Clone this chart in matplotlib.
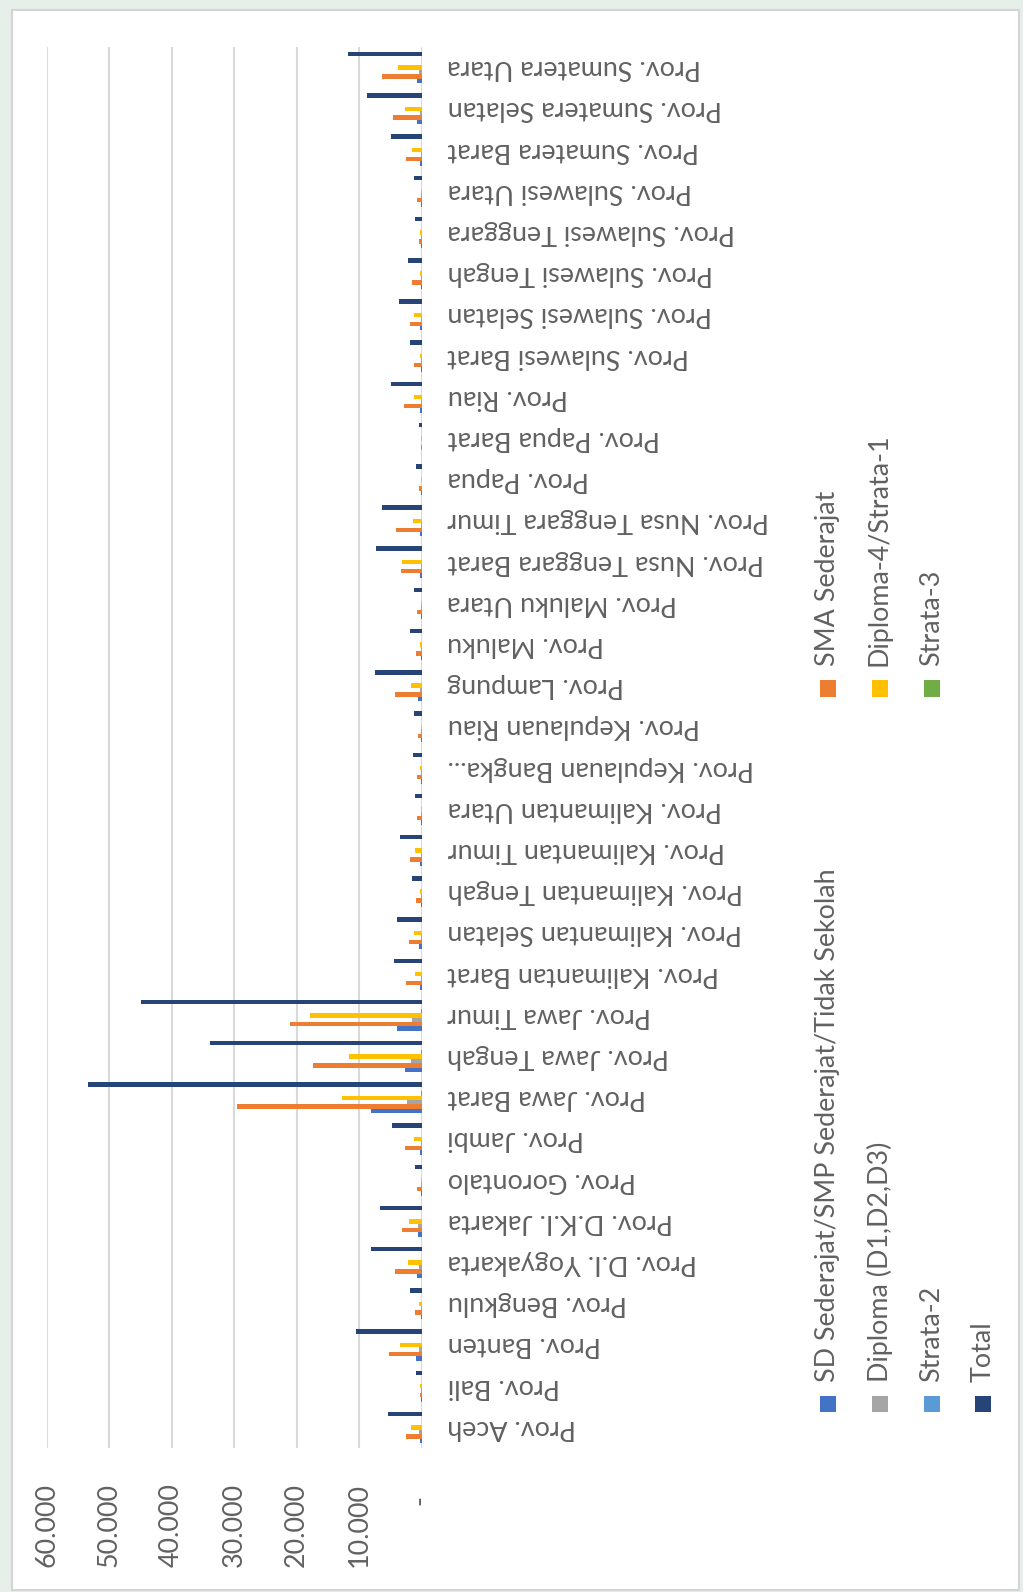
import numpy as np
import matplotlib
matplotlib.use("Agg")
import matplotlib.pyplot as plt
from matplotlib.patches import Rectangle

plt.rcParams["font.family"] = ["Lato", "DejaVu Sans"]

provinces = [
    "Prov. Aceh", "Prov. Bali", "Prov. Banten", "Prov. Bengkulu",
    "Prov. D.I. Yogyakarta", "Prov. D.K.I. Jakarta", "Prov. Gorontalo",
    "Prov. Jambi", "Prov. Jawa Barat", "Prov. Jawa Tengah", "Prov. Jawa Timur",
    "Prov. Kalimantan Barat", "Prov. Kalimantan Selatan",
    "Prov. Kalimantan Tengah", "Prov. Kalimantan Timur",
    "Prov. Kalimantan Utara", "Prov. Kepulauan Bangka...",
    "Prov. Kepulauan Riau", "Prov. Lampung", "Prov. Maluku",
    "Prov. Maluku Utara", "Prov. Nusa Tenggara Barat",
    "Prov. Nusa Tenggara Timur", "Prov. Papua", "Prov. Papua Barat",
    "Prov. Riau", "Prov. Sulawesi Barat", "Prov. Sulawesi Selatan",
    "Prov. Sulawesi Tengah", "Prov. Sulawesi Tenggara",
    "Prov. Sulawesi Utara", "Prov. Sumatera Barat",
    "Prov. Sumatera Selatan", "Prov. Sumatera Utara",
]

sd_smp = [267, 60, 906, 100, 693, 586, 50, 267, 8100, 2610, 3940, 267, 373,
          80, 267, 50, 80, 60, 586, 80, 60, 267, 267, 40, 20, 267, 80, 200,
          100, 60, 60, 267, 693, 693]
sma = [2500, 267, 5170, 1010, 4264, 3090, 693, 2720, 29600, 17430, 21000,
       2450, 1970, 853, 1810, 693, 800, 586, 4320, 960, 746, 3250, 4160, 480,
       100, 2770, 1280, 1866, 1546, 480, 746, 2450, 4640, 6290]
diploma = [373, 50, 373, 60, 373, 533, 40, 150, 2400, 1706, 1490, 150, 150,
           50, 150, 40, 60, 60, 267, 60, 40, 150, 150, 30, 20, 100, 50, 150,
           80, 50, 50, 150, 213, 373]
d4_s1 = [1760, 267, 3466, 373, 2240, 2026, 150, 1226, 12690, 11570, 17860,
         1120, 1226, 267, 1066, 150, 267, 150, 1706, 267, 150, 3090, 1333,
         160, 100, 1226, 267, 1226, 267, 267, 150, 1490, 2610, 3785]
strata2 = [0, 0, 20, 0, 20, 20, 0, 0, 150, 100, 120, 0, 0, 0, 0, 0, 0, 0,
           10, 0, 0, 0, 0, 0, 0, 10, 0, 10, 0, 0, 0, 0, 10, 20]
strata3 = [0] * 34
total = [5440, 853, 10500, 1810, 8100, 6660, 1120, 4740, 53340, 33900, 44900,
         4370, 3940, 1490, 3466, 1066, 1386, 1226, 7410, 1810, 1226, 7300,
         6400, 960, 426, 4850, 1866, 3680, 2240, 1010, 1170, 4850, 8690, 11730]

series_names = [
    "SD Sederajat/SMP Sederajat/Tidak Sekolah", "SMA Sederajat",
    "Diploma (D1,D2,D3)", "Diploma-4/Strata-1", "Strata-2", "Strata-3", "Total",
]
series_colors = ["#4472C4", "#ED7D31", "#A5A5A5", "#FFC000", "#5B9BD5",
                 "#70AD47", "#264478"]
series_values = [sd_smp, sma, diploma, d4_s1, strata2, strata3, total]

value_ticks = [0, 10000, 20000, 30000, 40000, 50000, 60000]
value_labels = ["-  ", "10.000", "20.000", "30.000", "40.000", "50.000",
                "60.000"]

W, H = 1023, 1592
text_gray = "#616161"
fsize = 19.4


def fx(px):
    return px / W


def fy(py):
    return 1 - py / H


fig = plt.figure(figsize=(W / 100, H / 100), dpi=100)
fig.patch.set_facecolor("#E7EFEB")
fig.add_artist(Rectangle((fx(12), fy(1590)), fx(1019) - fx(12),
                         fy(10) - fy(1590), transform=fig.transFigure,
                         facecolor="white", edgecolor="#D4D4D4", lw=1.5,
                         zorder=-1))

ax = fig.add_axes([fx(46.7), fy(1448), fx(421.7) - fx(46.7),
                   fy(47) - fy(1448)])
ax.set_facecolor("none")

y = np.arange(len(provinces))
bar_h = 0.108
for i, (vals, color) in enumerate(zip(series_values, series_colors)):
    ax.barh(y + (i - 3) * bar_h, vals, height=bar_h, color=color, zorder=3)

ax.set_xlim(60000, 0)
ax.set_ylim(-0.5, len(provinces) - 0.5)
ax.set_xticks(value_ticks)
ax.set_xticklabels(value_labels)
ax.grid(axis="x", color="#D9D9D9", lw=1.5)
ax.set_axisbelow(True)
for s in ax.spines.values():
    s.set_visible(False)

ax.tick_params(axis="x", length=0, pad=25, labelrotation=90, labelsize=fsize,
               labelcolor=text_gray)
ax.yaxis.set_ticks_position("right")
ax.set_yticks(y)
ax.set_yticklabels(provinces)
ax.tick_params(axis="y", length=0, pad=18.5, labelrotation=180,
               labelsize=fsize, labelcolor=text_gray)
for lab in ax.get_yticklabels():
    lab.set_ha("left")
    lab.set_va("center")

# legend laid out by hand: vertical text, two items per column
col_x = [828, 879.5, 931.5, 983]
row_y = [1404, 688.5]
slots = [(0, 0), (0, 1), (1, 0), (1, 1), (2, 0), (2, 1), (3, 0)]
for name, color, (c, r) in zip(series_names, series_colors, slots):
    cx, cy = col_x[c], row_y[r]
    fig.add_artist(Rectangle((fx(cx - 8), fy(cy + 8)), 16 / W, 16 / H,
                             transform=fig.transFigure, facecolor=color,
                             edgecolor="none"))
    fig.text(fx(cx), fy(cy - 22), name, rotation=90, ha="center",
             va="bottom", fontsize=fsize, color=text_gray)

fig.savefig("out.png", dpi=100, facecolor=fig.get_facecolor())
